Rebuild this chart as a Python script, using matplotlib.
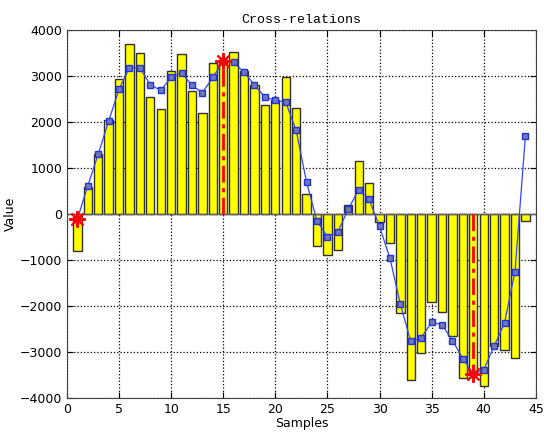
import numpy as np
import matplotlib.pyplot as plt

samples = np.arange(1, 45)
bars = [-800, 580, 1300, 2040, 2930, 3700, 3510, 2550, 2290, 3110,
        3470, 2670, 2190, 3280, 3350, 3530, 3110, 2800, 2380, 2490,
        2970, 2310, 430, -700, -890, -780, 200, 1160, 670, -180,
        -620, -2150, -3610, -3010, -1920, -2130, -2650, -3570, -3500, -3740,
        -2870, -2960, -3120, -150]
curve = [-110, 610, 1300, 2020, 2710, 3180, 3180, 2810, 2690, 2970,
         3070, 2800, 2640, 2970, 3320, 3300, 3080, 2810, 2540, 2480,
         2430, 1820, 690, -150, -490, -390, 110, 530, 320, -270,
         -960, -1960, -2770, -2690, -2350, -2410, -2750, -3140, -3480, -3380,
         -2870, -2360, -1250, 1700]
peak_x = [1, 15, 39]
peak_y = [-110, 3320, -3480]

fig = plt.figure(figsize=(5.44, 4.36), dpi=100)
ax = fig.add_axes([0.123, 0.087, 0.862, 0.844])

ax.bar(samples, bars, width=0.8, color='yellow', edgecolor='#303030', linewidth=1.0, zorder=2)
ax.axhline(0, color='#606060', linewidth=1.0, zorder=2.5)
ax.plot(samples, curve, '-s', color='#3344ff', linewidth=0.9, markersize=4,
        markerfacecolor='#6f78b0', markeredgecolor='#2233dd', markeredgewidth=1.0, zorder=4)

# dash-dot markers down to the zero line for the two extremes
for px, py in zip(peak_x[1:], peak_y[1:]):
    ax.plot([px, px], [0, py], linestyle=(0, (6, 2, 1.5, 2)), color='red', linewidth=2, zorder=3)
ax.plot(peak_x, peak_y, linestyle='none', marker=(8, 2, 0), markersize=12,
        color='red', markeredgewidth=1.4, zorder=5)

ax.set_xlim(0, 45)
ax.set_ylim(-4000, 4000)
ax.set_xticks(np.arange(0, 46, 5))
ax.set_yticks(np.arange(-4000, 4001, 1000))
ax.grid(True, linestyle=':', color='black', linewidth=0.9)
ax.set_axisbelow(True)
ax.tick_params(direction='in', labelsize=9, length=4, top=True, right=True)
for s in ax.spines.values():
    s.set_color('#404040')

ax.set_title('Cross-relations', family='Liberation Mono', fontsize=9.5, pad=5)
ax.set_xlabel('Samples', fontsize=9, labelpad=1)
ax.set_ylabel('Value', fontsize=9, labelpad=2)

fig.savefig('out.png', dpi=100)
